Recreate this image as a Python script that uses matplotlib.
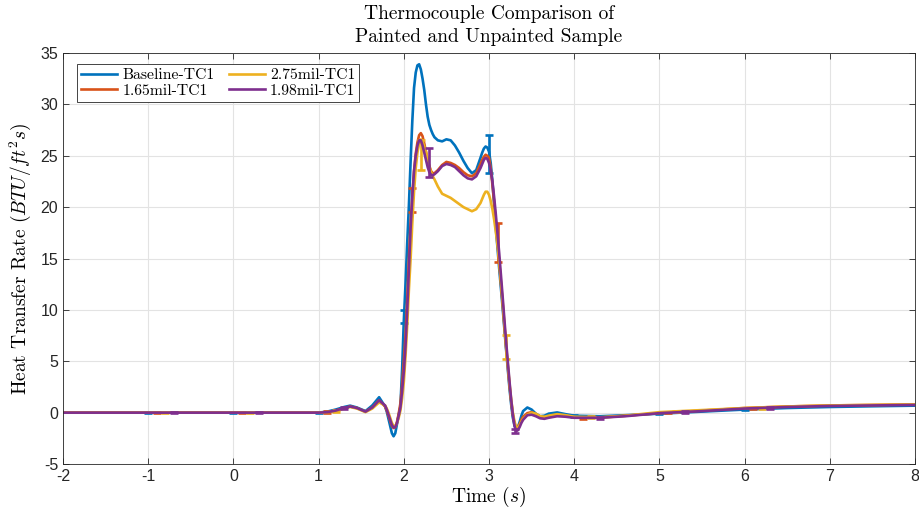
#!/usr/bin/env python
# coding:utf-8

"""
thermocouple comparison plot
"""

import matplotlib
matplotlib.use("Agg")
import matplotlib.pyplot as plt

# time samples (s)
t = [-2.0, -1.0, 0.0, 0.5, 1.0, 1.1, 1.2, 1.3, 1.37, 1.45, 1.55, 1.63, 1.71, 1.78,
     1.80, 1.82, 1.84, 1.86, 1.88, 1.90, 1.92, 1.94, 1.96, 1.98,
     2.00, 2.02, 2.04, 2.06, 2.08, 2.10, 2.12, 2.14, 2.16, 2.18, 2.20, 2.22, 2.24,
     2.26, 2.28, 2.30, 2.32, 2.34, 2.36,
     2.40, 2.45, 2.50, 2.55, 2.60, 2.65, 2.70, 2.75, 2.80, 2.85,
     2.90, 2.92, 2.94, 2.96, 2.98, 3.00, 3.02, 3.04, 3.06, 3.08, 3.10,
     3.12, 3.16, 3.20, 3.24,
     3.26, 3.28, 3.30, 3.32, 3.34, 3.36, 3.38, 3.40,
     3.45, 3.50, 3.55, 3.60, 3.65, 3.70, 3.80, 3.90,
     4.0, 4.3, 4.6, 5.0, 5.5, 6.0, 6.5, 7.0, 7.5, 8.0]

baseline = [0, 0, 0, 0, 0.0, 0.1, 0.3, 0.55, 0.68, 0.5, 0.15, 0.7, 1.5, 0.6,
            0.1, -0.6, -1.3, -2.0, -2.3, -2.0, -1.1, -0.2, 0.6, 4.2,
            8.9, 12.5, 16.5, 20.2, 24.5, 28.4, 31.6, 33.1, 33.8, 33.9, 33.4, 32.5, 31.4,
            30.0, 28.8, 28.0, 27.5, 27.1, 26.8,
            26.5, 26.4, 26.6, 26.5, 26.0, 25.3, 24.5, 23.8, 23.3, 23.6,
            24.8, 25.3, 25.7, 25.9, 25.8, 25.4, 24.3, 22.5, 20.3, 18.0, 16.0,
            14.0, 10.2, 6.2, 2.4,
            0.8, -0.5, -1.3, -1.6, -1.4, -0.9, -0.3, 0.15,
            0.5, 0.3, -0.1, -0.35, -0.3, -0.1, 0.02, -0.15,
            -0.3, -0.35, -0.25, -0.1, 0.1, 0.3, 0.45, 0.55, 0.62, 0.68]

mil165 = [0, 0, 0, 0, 0.0, 0.05, 0.2, 0.45, 0.6, 0.45, 0.1, 0.5, 1.2, 0.6,
          0.2, -0.3, -0.8, -1.3, -1.5, -1.4, -0.9, -0.1, 0.9, 2.7,
          5.0, 7.5, 11.0, 15.0, 18.5, 21.0, 23.5, 25.2, 26.3, 27.0, 27.2, 26.9, 26.2,
          25.4, 24.6, 24.0, 23.5, 23.3, 23.3,
          23.6, 24.1, 24.4, 24.3, 24.1, 23.8, 23.4, 23.1, 23.0, 23.3,
          24.2, 24.6, 24.9, 25.1, 25.0, 24.8, 23.8, 22.2, 20.5, 18.6, 16.6,
          14.6, 10.6, 6.4, 2.7,
          1.1, -0.2, -1.1, -1.5, -1.4, -1.1, -0.7, -0.4,
          -0.05, 0.05, -0.15, -0.4, -0.45, -0.35, -0.2, -0.3,
          -0.45, -0.5, -0.3, -0.05, 0.2, 0.45, 0.6, 0.7, 0.75, 0.8]

mil275 = [0, 0, 0, 0, 0.0, 0.05, 0.15, 0.4, 0.55, 0.4, 0.05, 0.4, 1.0, 0.7,
          0.4, 0.0, -0.5, -1.0, -1.3, -1.35, -1.0, -0.5, 0.2, 1.4,
          3.0, 5.5, 8.5, 12.0, 15.0, 18.5, 21.5, 23.8, 25.3, 26.2, 26.6, 26.4, 25.9,
          25.4, 24.6, 23.9, 23.4, 23.0, 22.7,
          22.0, 21.3, 21.1, 20.9, 20.6, 20.3, 20.0, 19.8, 19.6, 19.8,
          20.4, 20.8, 21.2, 21.5, 21.5, 21.2, 20.6, 19.8, 18.8, 17.6, 16.3,
          14.7, 10.8, 6.6, 2.9,
          1.3, 0.0, -0.9, -1.4, -1.45, -1.2, -0.9, -0.6,
          -0.2, 0.0, -0.1, -0.35, -0.4, -0.3, -0.15, -0.25,
          -0.4, -0.45, -0.3, 0.05, 0.25, 0.45, 0.6, 0.7, 0.75, 0.8]

mil198 = [0, 0, 0, 0, 0.0, 0.05, 0.2, 0.45, 0.6, 0.45, 0.1, 0.5, 1.2, 0.7,
          0.3, -0.2, -0.7, -1.2, -1.45, -1.4, -1.0, -0.3, 0.5, 2.1,
          4.0, 6.5, 10.0, 14.0, 18.0, 21.0, 23.5, 25.0, 26.0, 26.5, 26.5, 26.0, 25.3,
          24.6, 23.9, 23.4, 23.15, 23.1, 23.2,
          23.5, 24.0, 24.2, 24.1, 23.9, 23.5, 23.1, 22.8, 22.7, 23.0,
          23.8, 24.2, 24.6, 24.8, 24.7, 24.3, 23.6, 22.5, 21.0, 19.3, 17.4,
          15.5, 11.3, 7.0, 3.1,
          1.3, -0.2, -1.3, -1.8, -1.7, -1.4, -1.0, -0.7,
          -0.25, -0.2, -0.35, -0.55, -0.6, -0.5, -0.35, -0.4,
          -0.5, -0.5, -0.35, -0.05, 0.15, 0.4, 0.55, 0.65, 0.7, 0.75]

# error bars: position, centre, half width
bar_t_baseline = [-1.0, 0.0, 1.0, 2.0, 3.0, 4.0, 5.0, 6.0]
bar_y_baseline = [0, 0, 0, 9.35, 25.15, -0.3, -0.1, 0.3]
bar_e_baseline = [0.08, 0.08, 0.08, 0.65, 1.85, 0.08, 0.08, 0.08]

bar_t_165 = [-0.9, 0.1, 1.1, 2.1, 3.1, 4.1, 5.1, 6.1]
bar_y_165 = [0, 0, 0.05, 20.7, 16.6, -0.5, 0.0, 0.4]
bar_e_165 = [0.08, 0.08, 0.08, 1.2, 1.9, 0.08, 0.08, 0.08]

bar_t_275 = [-0.8, 0.2, 1.2, 2.2, 3.2, 4.2, 5.2, 6.2]
bar_y_275 = [0, 0, 0.15, 25.05, 6.4, -0.45, 0.1, 0.45]
bar_e_275 = [0.08, 0.08, 0.08, 1.45, 1.2, 0.08, 0.08, 0.08]

bar_t_198 = [-0.7, 0.3, 1.3, 2.3, 3.3, 4.3, 5.3, 6.3]
bar_y_198 = [0, 0, 0.45, 24.35, -1.8, -0.5, 0.05, 0.45]
bar_e_198 = [0.08, 0.08, 0.08, 1.45, 0.2, 0.08, 0.08, 0.08]

labels = ["Baseline-TC1", "1.65mil-TC1", "2.75mil-TC1", "1.98mil-TC1"]
colors = ["#0072BD", "#D95319", "#EDB120", "#7E2F8E"]


def main():
    plt.rcParams["mathtext.fontset"] = "cm"
    plt.rcParams["axes.unicode_minus"] = False
    plt.rcParams["font.family"] = ["Liberation Sans", "DejaVu Sans"]

    fig = plt.figure(figsize=(9.19, 5.18), dpi=100)
    ax = fig.add_axes([0.0686, 0.1042, 0.9270, 0.7935])

    series = [baseline, mil165, mil275, mil198]
    bars = [(bar_t_baseline, bar_y_baseline, bar_e_baseline),
            (bar_t_165, bar_y_165, bar_e_165),
            (bar_t_275, bar_y_275, bar_e_275),
            (bar_t_198, bar_y_198, bar_e_198)]

    lines = []
    for y, (bt, by, be), c, lab in zip(series, bars, colors, labels):
        ln, = ax.plot(t, y, color=c, lw=1.9, label=lab, solid_joinstyle="round")
        ax.errorbar(bt, by, yerr=be, fmt="none", ecolor=c, elinewidth=1.9,
                    capsize=2.6, capthick=1.9)
        lines.append(ln)

    ax.set_xlim(-2, 8)
    ax.set_ylim(-5, 35)
    ax.set_xticks(range(-2, 9))
    ax.set_yticks(range(-5, 36, 5))
    ax.grid(True, color="#e3e3e3", lw=0.8)
    ax.set_axisbelow(True)
    ax.tick_params(direction="in", top=True, right=True, labelsize=11.5,
                   colors="#262626", length=4, width=0.6)
    for s in ax.spines.values():
        s.set_color("#262626")
        s.set_linewidth(0.6)

    serif = ["cmr10", "DejaVu Serif"]
    ax.set_title("Thermocouple Comparison of\nPainted and Unpainted Sample",
                 family=serif, fontsize=14, linespacing=1.35, pad=8)
    ax.set_xlabel("Time $(s)$", family=serif, fontsize=14, labelpad=1)
    ax.set_ylabel("Heat Transfer Rate $(BTU/ft^2s)$", family=serif, fontsize=14,
                  labelpad=5)

    leg = ax.legend(handles=lines, labels=labels,
                    ncol=2, loc="upper left", bbox_to_anchor=(0.016, 0.973),
                    prop={"family": serif, "size": 11.3}, fancybox=False,
                    framealpha=1, edgecolor="#262626", borderpad=0.25,
                    handlelength=2.3, handletextpad=0.35, columnspacing=0.9,
                    labelspacing=0.12, borderaxespad=0)
    leg.get_frame().set_linewidth(0.6)
    plt.savefig("out.png", dpi=100)


if __name__ == "__main__":
    main()
